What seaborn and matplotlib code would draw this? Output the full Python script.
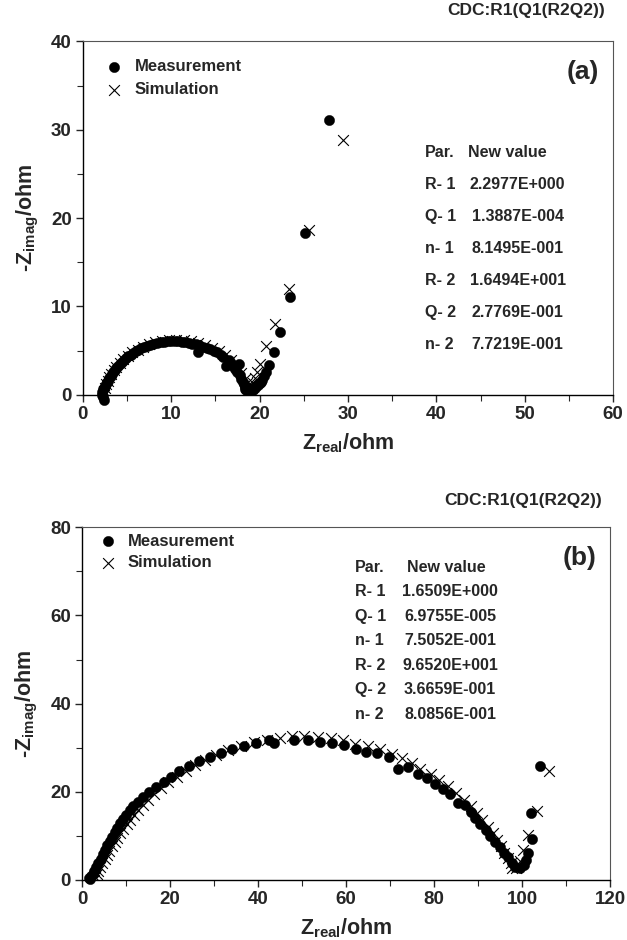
import matplotlib
matplotlib.use("Agg")
import matplotlib.pyplot as plt
from matplotlib.ticker import MultipleLocator
import seaborn as sns

# Panel (a) - measured spectrum
meas_a_x = [2.4, 2.3, 2.2, 2.2, 2.3, 2.4, 2.5, 2.6, 2.7, 2.8, 3.0, 3.15, 3.3, 3.45, 3.6,
            3.8, 4.0, 4.2, 4.4, 4.65, 4.9, 5.15, 5.4, 5.7, 6.0, 6.3, 6.6, 6.95, 7.3,
            7.65, 8.0, 8.4, 8.8, 9.2, 9.6, 10.0, 10.4, 10.8, 11.2, 11.6, 12.0, 12.4,
            12.8, 13.0, 13.2, 13.6, 14.0, 14.4, 14.8, 15.2, 15.6, 15.9, 16.2, 16.5,
            16.8, 17.0, 17.2, 17.4, 17.7, 17.8, 17.95, 18.1, 18.2, 18.3, 18.4, 18.5,
            18.6, 18.75, 18.9, 19.05, 19.2, 19.3, 19.5, 19.65, 19.8, 20.0, 20.15, 20.3,
            20.5, 20.7, 21.1, 21.6, 22.3, 23.4, 25.1, 27.9]
meas_a_y = [-0.6, -0.3, 0.0, 0.3, 0.6, 0.8, 1.0, 1.2, 1.4, 1.6, 1.9, 2.1, 2.4, 2.6, 2.8,
            3.0, 3.25, 3.45, 3.7, 3.9, 4.15, 4.35, 4.55, 4.75, 4.95, 5.1, 5.25, 5.4, 5.55,
            5.65, 5.75, 5.85, 5.95, 6.0, 6.05, 6.05, 6.05, 6.05, 6.0, 5.95, 5.9, 5.8,
            5.7, 4.8, 5.6, 5.45, 5.3, 5.15, 5.0, 4.8, 4.55, 4.3, 3.3, 3.9,
            3.6, 3.25, 2.9, 2.6, 3.5, 2.2, 1.8, 1.5, 1.2, 0.9, 0.65, 0.55,
            0.6, 0.7, 0.75, 0.7, 0.6, 0.5, 0.8, 0.95, 1.1, 1.3, 1.5, 1.7,
            2.1, 2.6, 3.4, 4.8, 7.1, 11.1, 18.3, 31.1]
# Panel (a) - fitted spectrum
sim_a_x = [2.4, 2.4, 2.5, 2.6, 2.8, 3.0, 3.2, 3.5, 3.8, 4.2, 4.6, 5.1, 5.6, 6.2, 6.8,
           7.5, 8.2, 9.0, 9.8, 10.6, 11.4, 12.2, 13.0, 13.8, 14.6, 15.4, 16.1, 16.8,
           17.4, 17.9, 18.3, 18.6, 18.9, 19.2, 19.5, 19.7, 20.0, 20.7, 21.7, 23.3,
           25.6, 29.4]
sim_a_y = [0.0, 0.4, 0.8, 1.2, 1.6, 2.0, 2.4, 2.8, 3.2, 3.6, 4.0, 4.4, 4.8, 5.1, 5.4,
           5.7, 5.95, 6.1, 6.2, 6.2, 6.15, 6.05, 5.9, 5.65, 5.35, 4.95, 4.5, 3.9,
           3.2, 2.5, 1.8, 1.3, 1.1, 1.3, 1.9, 2.6, 3.5, 5.5, 8.0, 12.0,
           18.6, 28.8]

# Panel (b) - measured spectrum
meas_b_x = [1.5, 1.9, 2.1, 2.4, 2.8, 3.2, 3.7, 4.2, 4.7, 5.2, 5.7, 6.3, 6.8, 7.4, 8.0,
            8.6, 9.3, 10.0, 10.8, 11.6, 12.6, 13.9, 15.2, 16.9, 18.6, 20.3, 22.1,
            24.3, 26.6, 29.0, 31.5, 34.1, 36.7, 39.6, 42.5, 43.5, 48.1, 51.3, 54.0,
            56.7, 59.5, 62.2, 64.6, 67.1, 69.7, 71.7, 74.1, 76.3, 78.5, 80.3, 82.1,
            83.7, 85.5, 87.1, 88.3, 89.4, 90.5, 91.7, 92.8, 93.9, 94.9, 95.8, 96.7,
            97.6, 98.5, 99.5, 100.4, 101.0, 101.3, 102.2, 102.1, 104.0]
meas_b_y = [0.4, 0.3, 0.8, 1.4, 2.1, 2.9, 3.8, 4.8, 5.8, 6.8, 7.8, 8.8, 9.8, 10.8, 11.8,
            12.8, 13.8, 14.8, 15.8, 16.8, 17.7, 18.9, 20.0, 21.1, 22.3, 23.4, 24.6,
            25.8, 26.9, 27.9, 28.8, 29.6, 30.4, 31.1, 31.7, 31.1, 31.7, 31.7, 31.2,
            31.1, 30.6, 29.8, 29.1, 28.7, 27.9, 25.2, 25.5, 24.1, 23.1, 21.8, 20.7,
            19.4, 17.4, 17.0, 15.5, 14.0, 12.7, 11.4, 10.0, 8.7, 7.4, 6.2, 5.1,
            3.9, 3.0, 2.7, 3.4, 4.5, 6.1, 9.2, 15.2, 25.9]
# Panel (b) - fitted spectrum
sim_b_x = [2.8, 3.0, 3.3, 3.7, 4.1, 4.6, 5.1, 5.6, 6.2, 6.8, 7.4, 8.0, 8.7, 9.4, 10.1,
           10.9, 11.8, 12.8, 13.9, 15.0, 16.4, 17.9, 19.6, 21.5, 23.5, 25.7, 28.0,
           30.5, 33.2, 36.0, 39.0, 42.0, 44.9, 47.8, 50.5, 53.5, 56.5, 59.4, 62.1,
           64.9, 67.6, 70.4, 72.6, 74.9, 76.9, 79.2, 81.2, 83.1, 84.9, 86.9, 88.3,
           89.8, 91.0, 92.2, 93.3, 94.2, 95.1, 96.0, 96.7, 97.4, 97.8, 98.7, 99.6,
           100.1, 101.3, 103.3, 106.2]
sim_b_y = [0.0, 0.6, 1.3, 2.1, 2.9, 3.8, 4.7, 5.6, 6.6, 7.6, 8.6, 9.6, 10.6, 11.6, 12.6,
           13.6, 14.7, 15.8, 17.0, 18.2, 19.5, 20.8, 22.1, 23.4, 24.7, 26.0, 27.2,
           28.3, 29.4, 30.4, 31.2, 31.8, 32.2, 32.6, 32.6, 32.4, 32.2, 31.8, 30.8,
           30.3, 29.7, 28.6, 27.6, 26.5, 25.2, 24.1, 22.7, 21.4, 19.7, 18.2, 16.7,
           15.2, 13.6, 12.1, 10.6, 9.1, 7.6, 6.1, 4.9, 3.8, 2.7, 2.8, 4.2,
           6.8, 10.1, 15.7, 24.6]

# Fit results
par_names = ["R- 1", "Q- 1", "n- 1", "R- 2", "Q- 2", "n- 2"]
par_a = ["2.2977E+000", "1.3887E-004", "8.1495E-001", "1.6494E+001", "2.7769E-001", "7.7219E-001"]
par_b = ["1.6509E+000", "6.9755E-005", "7.5052E-001", "9.6520E+001", "3.6659E-001", "8.0856E-001"]
circuit = "CDC:R1(Q1(R2Q2))"

sns.set_style("ticks")
plt.rcParams["font.family"] = ["Liberation Sans", "DejaVu Sans"]
plt.rcParams["font.weight"] = "bold"
plt.rcParams["mathtext.default"] = "regular"

fig = plt.figure(figsize=(6.27, 9.4), dpi=100)
ax_a = fig.add_axes([0.132, 0.580, 0.846, 0.376])
ax_b = fig.add_axes([0.131, 0.064, 0.842, 0.375])

panels = [
    (ax_a, meas_a_x, meas_a_y, sim_a_x, sim_a_y, par_a, "(a)", (0, 60, 10, 5), (0, 40, 10, 5)),
    (ax_b, meas_b_x, meas_b_y, sim_b_x, sim_b_y, par_b, "(b)", (0, 120, 20, 10), (0, 80, 20, 10)),
]

for ax, mx, my, sx, sy, pars, tag, xs, ys in panels:
    sns.scatterplot(x=mx, y=my, ax=ax, marker="o", color="black", s=55,
                    edgecolor="black", linewidth=0.3, label="Measurement",
                    zorder=3, clip_on=False)
    sns.scatterplot(x=sx, y=sy, ax=ax, marker="x", color="black", s=60,
                    linewidth=0.8, label="Simulation", zorder=4)

    ax.set_xlim(xs[0], xs[1])
    ax.set_ylim(ys[0], ys[1])
    ax.xaxis.set_major_locator(MultipleLocator(xs[2]))
    ax.xaxis.set_minor_locator(MultipleLocator(xs[3]))
    ax.yaxis.set_major_locator(MultipleLocator(ys[2]))
    ax.yaxis.set_minor_locator(MultipleLocator(ys[3]))
    ax.tick_params(which="major", direction="out", length=5, width=1, labelsize=13.5, pad=3)
    ax.tick_params(which="minor", direction="out", length=4, width=0.8)
    for lbl in ax.get_xticklabels() + ax.get_yticklabels():
        lbl.set_fontweight("bold")

    for side in ["left", "bottom"]:
        ax.spines[side].set_color("black")
        ax.spines[side].set_linewidth(1.0)
    for side in ["top", "right"]:
        ax.spines[side].set_visible(True)
        ax.spines[side].set_color("#555555")
        ax.spines[side].set_linewidth(0.8)

    ax.set_xlabel("Z$_{real}$/ohm", fontsize=15.5, fontweight="bold", labelpad=6)
    ax.set_ylabel("-Z$_{imag}$/ohm", fontsize=15.5, fontweight="bold", labelpad=7)

    ax.text(0.943, 0.912, tag, transform=ax.transAxes, ha="center", va="center",
            fontsize=19, fontweight="bold")
    ax.text(0.985, 1.088 if tag == "(a)" else 1.076, circuit, transform=ax.transAxes,
            ha="right", va="center", fontsize=12.5, fontweight="bold")

    if tag == "(a)":
        lx, vx, hx, y0, dy = 0.645, 0.820, 0.726, 0.686, 0.0905
        leg_anchor = (0.044, 0.950)
        spacing = 0.5
    else:
        lx, vx, hx, y0, dy = 0.517, 0.697, 0.616, 0.887, 0.0695
        leg_anchor = (0.033, 0.982)
        spacing = 0.4
    ax.text(lx, y0, "Par.", transform=ax.transAxes, ha="left", va="center",
            fontsize=11.5, fontweight="bold")
    ax.text(hx, y0, "New value", transform=ax.transAxes, ha="left", va="center",
            fontsize=11.5, fontweight="bold")
    for i, (name, val) in enumerate(zip(par_names, pars)):
        yy = y0 - dy * (i + 1)
        ax.text(lx, yy, name, transform=ax.transAxes, ha="left", va="center",
                fontsize=11.5, fontweight="bold")
        ax.text(vx, yy, val, transform=ax.transAxes, ha="center", va="center",
                fontsize=11.5, fontweight="bold")

    ax.legend(loc="upper left", bbox_to_anchor=leg_anchor, frameon=False,
              handlelength=1.0, handletextpad=0.7, borderpad=0, borderaxespad=0,
              labelspacing=spacing, scatterpoints=1,
              prop={"size": 12, "weight": "bold"})

fig.savefig("out.png", dpi=100)
